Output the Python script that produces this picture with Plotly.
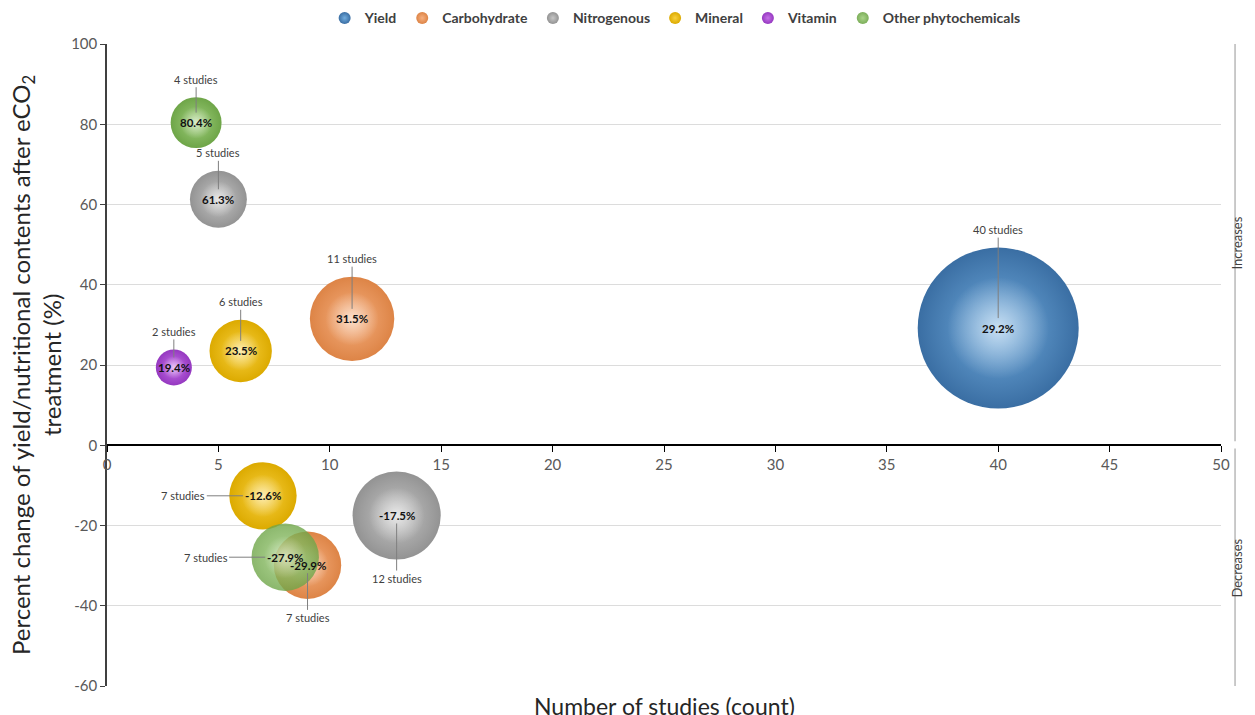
import math
import plotly.graph_objects as go

# ---------------- data ----------------
categories = ["Yield", "Carbohydrate", "Nitrogenous", "Mineral", "Vitamin", "Other phytochemicals"]

yield_x = [40]
yield_pct = [29.2]
yield_n = [40]

carb_x = [11, 9]
carb_pct = [31.5, -29.9]
carb_n = [11, 7]

nitro_x = [5, 13]
nitro_pct = [61.3, -17.5]
nitro_n = [5, 12]

mineral_x = [6, 7]
mineral_pct = [23.5, -12.6]
mineral_n = [6, 7]

vitamin_x = [3]
vitamin_pct = [19.4]
vitamin_n = [2]

other_x = [4, 8]
other_pct = [80.4, -27.9]
other_n = [4, 7]

x_ticks = [0, 5, 10, 15, 20, 25, 30, 35, 40, 45, 50]
y_ticks = [-60, -40, -20, 0, 20, 40, 60, 80, 100]

series = [
    ("Yield", yield_x, yield_pct, yield_n),
    ("Carbohydrate", carb_x, carb_pct, carb_n),
    ("Nitrogenous", nitro_x, nitro_pct, nitro_n),
    ("Mineral", mineral_x, mineral_pct, mineral_n),
    ("Vitamin", vitamin_x, vitamin_pct, vitamin_n),
    ("Other phytochemicals", other_x, other_pct, other_n),
]

# ---------------- styles ----------------
# (edge colour, body colour)
colors = {
    "Yield": ("#3a6ea3", "#72addf"),
    "Carbohydrate": ("#dd8446", "#f6b080"),
    "Nitrogenous": ("#939393", "#c6c6c6"),
    "Mineral": ("#dcaa00", "#f9d13e"),
    "Vitamin": ("#9538c0", "#c670e8"),
    "Other phytochemicals": ("#6ea548", "#a0cf7c"),
}
opacity = {"Other phytochemicals": [1, 0.8]}
# label side for each point (style only)
label_side = {
    ("Carbohydrate", 1): "below",
    ("Nitrogenous", 1): "below",
    ("Mineral", 1): "left",
    ("Other phytochemicals", 1): "left",
}

FONT = "Lato"
MAX_D = 161.0           # pixel diameter of the largest bubble (40 studies)
MAX_N = 40
sizeref = 2.0 * MAX_N / MAX_D ** 2


def radius(n):
    return MAX_D / 2 * math.sqrt(n / MAX_N)


fig = go.Figure()
annotations = []

for name, xs, ys, ns in series:
    edge, body = colors[name]
    fig.add_trace(go.Scatter(
        x=xs, y=ys, mode="markers", name=name,
        marker=dict(size=ns, sizemode="area", sizeref=sizeref, color=edge,
                    opacity=opacity.get(name, 1),
                    gradient=dict(type="radial", color=body),
                    line=dict(width=0)),
        hoverinfo="skip",
    ))
    # highlight layer (same points, smaller)
    fig.add_trace(go.Scatter(
        x=xs, y=ys, mode="markers", showlegend=False,
        marker=dict(size=[n * 0.4 for n in ns], sizemode="area", sizeref=sizeref,
                    color="rgba(255,255,255,0)",
                    opacity=opacity.get(name, 1),
                    gradient=dict(type="radial", color="rgba(255,255,255,0.6)"),
                    line=dict(width=0)),
        hoverinfo="skip",
    ))
    for i, (x, y, n) in enumerate(zip(xs, ys, ns)):
        r = radius(n)
        side = label_side.get((name, i), "above")
        if side == "above":
            ax, ay, so = 0, -(r + 18), 10
        elif side == "below":
            ax, ay, so = 0, r + 19, 8
        else:
            ax, ay, so = -(r + 46), 0, 20
        annotations.append(dict(
            x=x, y=y, xref="x", yref="y", text=f"{n} studies",
            showarrow=True, arrowhead=0, arrowwidth=1, arrowcolor="#7f7f7f",
            ax=ax, ay=ay, standoff=so,
            font=dict(family=FONT, size=11, color="#404040"),
        ))
        annotations.append(dict(
            x=x, y=y, xref="x", yref="y", text=f"<b>{y}%</b>",
            showarrow=False, font=dict(family=FONT, size=11.5, color="#111111"),
        ))

# axis titles
annotations.append(dict(
    x=0, y=0.5, xref="paper", yref="paper", xshift=-71,
    text="Percent change of yield/nutritional contents after eCO<sub>2</sub><br>treatment (%)",
    textangle=-90, showarrow=False, xanchor="center", yanchor="middle",
    font=dict(family=FONT, size=24, color="#262626"),
))
annotations.append(dict(
    x=0.5, y=0, xref="paper", yref="paper", yshift=-4,
    text="Number of studies (count)", showarrow=False,
    xanchor="center", yanchor="top",
    font=dict(family=FONT, size=23, color="#262626"),
))
# side labels
annotations.append(dict(
    x=1.0233, y=50.5, xref="paper", yref="y", text="Increases", textangle=-90,
    showarrow=False, font=dict(family=FONT, size=13, color="#404040"),
))
annotations.append(dict(
    x=1.0233, y=-30.5, xref="paper", yref="y", text="Decreases", textangle=-90,
    showarrow=False, font=dict(family=FONT, size=13, color="#404040"),
))

shapes = [
    dict(type="line", xref="paper", yref="y", x0=1.0126, x1=1.0126, y0=101.5, y1=1,
         line=dict(color="#a6a6a6", width=1.2)),
    dict(type="line", xref="paper", yref="y", x0=1.0126, x1=1.0126, y0=-0.8, y1=-60,
         line=dict(color="#a6a6a6", width=1.2)),
]

fig.update_layout(
    width=1255, height=715,
    margin=dict(l=107, r=34, t=44, b=29, autoexpand=False),
    paper_bgcolor="white", plot_bgcolor="white",
    font=dict(family=FONT, color="#595959"),
    showlegend=True,
    legend=dict(orientation="h", x=0.51, xanchor="center", y=1.015, yanchor="bottom",
                font=dict(family=FONT, size=14, color="#404040", weight="bold"),
                itemsizing="constant", bgcolor="rgba(0,0,0,0)"),
    xaxis=dict(range=[0, 50], tickvals=x_ticks, ticktext=[str(v) for v in x_ticks],
               showgrid=False, zeroline=False,
               showline=True, linecolor="#000000", linewidth=2,
               ticks="outside", ticklen=6, tickcolor="#000000",
               anchor="free", position=60 / 160,
               tickfont=dict(family=FONT, size=15, color="#595959")),
    yaxis=dict(range=[-60, 100], tickvals=y_ticks, ticktext=[str(v) for v in y_ticks],
               showgrid=True, gridcolor="#dcdcdc",
               gridwidth=1, zeroline=False, showline=True, linecolor="#404040",
               linewidth=1.5, ticks="outside", ticklen=5, tickcolor="#404040",
               tickfont=dict(family=FONT, size=15, color="#595959")),
    annotations=annotations,
    shapes=shapes,
)

fig.write_html("out.html")
